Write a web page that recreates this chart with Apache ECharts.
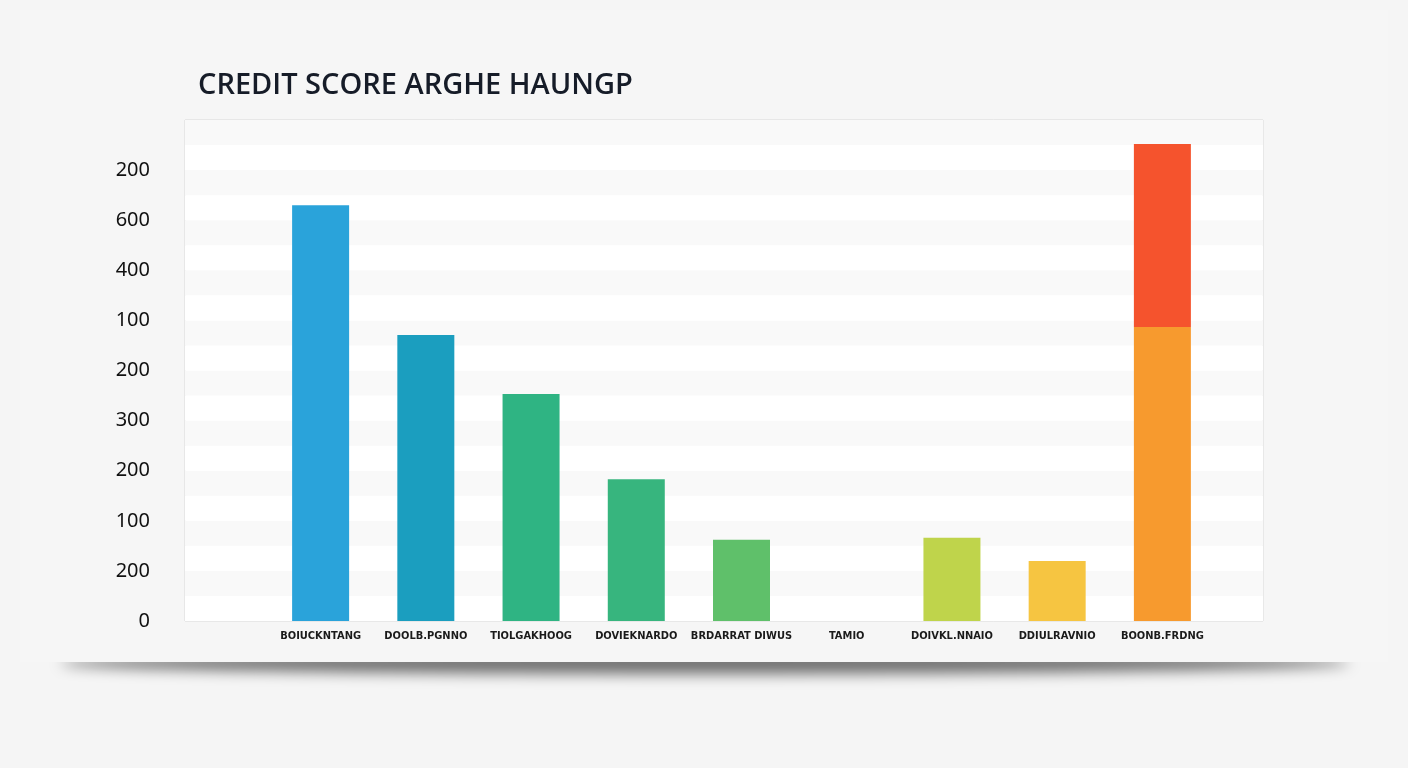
<!DOCTYPE html>
<html lang="en">

<head>
    <meta charset="UTF-8">
    <title>Credit Score</title>
    <script src="https://cdn.jsdelivr.net/npm/echarts@6.0.0/dist/echarts.min.js"></script>
    <style>
        html, body { margin: 0; padding: 0; background: #f5f5f5; }
        /* soft floating shadow under the card */
        #shadow {
            position: absolute; left: 60px; top: 652px; width: 1290px; height: 22px;
            border-radius: 50%; background: rgba(0, 0, 0, 0.55); filter: blur(7px);
        }
        #card {
            position: absolute; left: 20px; top: 10px; width: 1368px; height: 652px;
            background: #f6f6f6;
        }
        #chart { position: absolute; left: 0; top: 0; width: 1408px; height: 768px; }
    </style>
</head>

<body>
    <div id="shadow"></div>
    <div id="card"></div>
    <div id="chart"></div>

    <script>
        // data
        const categories = ['BOIUCKNTANG', 'DOOLB.PGNNO', 'TIOLGAKHOOG', 'DOVIEKNARDO', 'BRDARRAT DIWUS',
            'TAMIO', 'DOIVKL.NNAIO', 'DDIULRAVNIO', 'BOONB.FRDNG'];
        const baseValues = [830, 571, 453, 283, 162, null, 166, 120, 587];
        const topValues = [null, null, null, null, null, null, null, null, 365];
        // y tick labels as printed, from 0 upward
        const yTickLabels = ['0', '200', '100', '200', '300', '200', '100', '400', '600', '200'];

        const barColors = ['#2aa3da', '#1b9ebf', '#2fb483', '#37b57e', '#5fc06a', '#999', '#bfd44b', '#f6c541', '#f79a2e'];
        const topColor = '#f5532d';

        function initChart() {
            let chart = echarts.init(document.getElementById('chart'));
            let option = {
                animation: false,
                title: {
                    text: 'CREDIT SCORE ARGHE HAUNGP',
                    left: 193, top: 66,
                    textStyle: { fontFamily: 'Open Sans', fontSize: 29, fontWeight: 600, color: '#161c28' }
                },
                grid: [
                    // frame with bands and y labels
                    { left: 185, right: 145, top: 120, bottom: 147, show: true, backgroundColor: '#ffffff', borderColor: '#d9d9d9', borderWidth: 1 },
                    // bars
                    { left: 268, right: 193, top: 120, bottom: 147 }
                ],
                xAxis: [
                    { type: 'category', gridIndex: 0, data: [''], show: false },
                    {
                        type: 'category', gridIndex: 1, data: categories,
                        axisLine: { show: false }, axisTick: { show: false },
                        axisLabel: { interval: 0, margin: 10, fontFamily: 'DejaVu Sans Condensed', fontWeight: 'bold', fontSize: 11, color: '#1a1a1a' }
                    }
                ],
                yAxis: [
                    {
                        type: 'value', gridIndex: 0, min: 0, max: 1000, interval: 50,
                        axisLine: { show: false }, axisTick: { show: false },
                        splitLine: { show: false },
                        splitArea: { show: true, areaStyle: { color: ['#ffffff', '#f9f9f9'] } },
                        axisLabel: {
                            margin: 35, fontFamily: 'Noto Sans', fontSize: 20, color: '#111',
                            formatter: v => (v % 100 === 0 && v < 1000) ? yTickLabels[v / 100] : ''
                        }
                    },
                    { type: 'value', gridIndex: 1, min: 0, max: 1000, show: false }
                ],
                series: [
                    {
                        type: 'bar', xAxisIndex: 1, yAxisIndex: 1, stack: 'a', barWidth: 57,
                        data: baseValues,
                        itemStyle: { color: p => barColors[p.dataIndex] }
                    },
                    {
                        type: 'bar', xAxisIndex: 1, yAxisIndex: 1, stack: 'a', barWidth: 57,
                        data: topValues,
                        itemStyle: { color: topColor }
                    }
                ]
            };
            chart.setOption(option);
        }

        window.onload = initChart;
    </script>
</body>

</html>
